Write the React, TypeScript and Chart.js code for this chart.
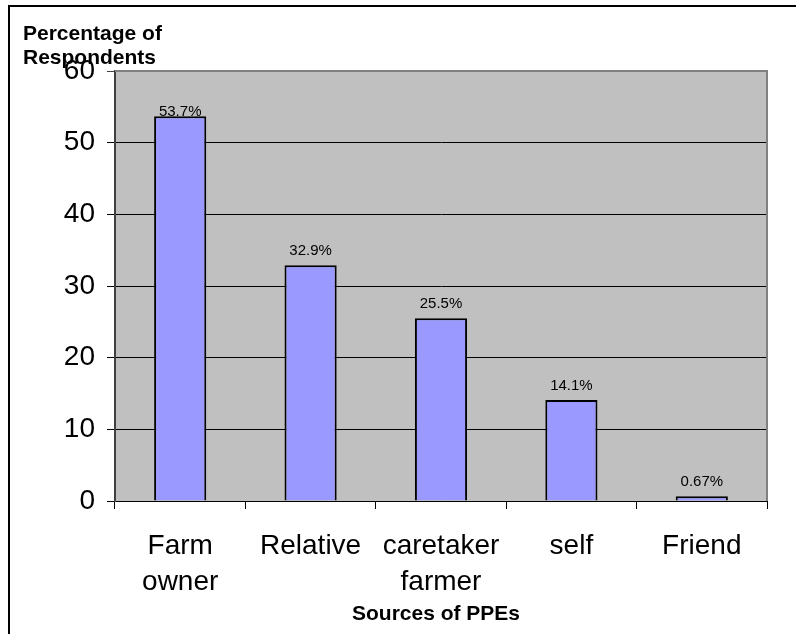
import React, { useEffect, useRef } from 'react';
import { Chart, registerables } from 'chart.js';

Chart.register(...registerables);

const categories: string[][] = [['Farm', 'owner'], ['Relative'], ['caretaker', 'farmer'], ['self'], ['Friend']];
const values: number[] = [53.7, 32.9, 25.5, 14.1, 0.67];
const valueLabels: string[] = ['53.7%', '32.9%', '25.5%', '14.1%', '0.67%'];
const yTitleLines: string[] = ['Percentage of', 'Respondents'];
const xTitle = 'Sources of PPEs';
const yMin = 0;
const yMax = 60;
const yStep = 10;

const FONT = '"Liberation Sans", Arial, Helvetica, sans-serif';

const decor = {
  id: 'decor',
  beforeDraw(chart: any) {
    const { ctx, chartArea } = chart;
    const { left, top, right, bottom } = chartArea;
    ctx.save();
    ctx.fillStyle = '#ffffff';
    ctx.fillRect(0, 0, chart.width, chart.height);
    ctx.fillStyle = '#C0C0C0';
    ctx.fillRect(left, top, right - left, bottom - top);
    ctx.restore();
  },
  afterDatasetsDraw(chart: any) {
    const { ctx, chartArea } = chart;
    const meta = chart.getDatasetMeta(0);
    ctx.save();
    ctx.font = `15px ${FONT}`;
    ctx.fillStyle = '#000';
    ctx.textAlign = 'center';
    ctx.textBaseline = 'alphabetic';
    meta.data.forEach((bar: any, i: number) => {
      let y = bar.y - 10;
      y = Math.max(y, chartArea.top + 45);
      ctx.fillText(valueLabels[i], bar.x, y);
    });
    ctx.restore();
  },
  afterDraw(chart: any) {
    const { ctx, chartArea } = chart;
    const { left, top, right, bottom } = chartArea;
    ctx.save();
    // plot area right/top border
    ctx.strokeStyle = '#808080';
    ctx.lineWidth = 2;
    ctx.beginPath();
    ctx.moveTo(left, top);
    ctx.lineTo(right, top);
    ctx.lineTo(right, bottom);
    ctx.stroke();
    // outer frame
    ctx.fillStyle = '#000';
    ctx.fillRect(8, 5, 2, chart.height - 5);
    ctx.fillRect(8, 5, chart.width - 8, 2);
    // y title
    ctx.font = `bold 21px ${FONT}`;
    ctx.textAlign = 'left';
    ctx.textBaseline = 'alphabetic';
    ctx.fillText(yTitleLines[0], 23, 40);
    ctx.fillText(yTitleLines[1], 23, 64);
    // x title
    ctx.textAlign = 'center';
    ctx.fillText(xTitle, (left + right) / 2 - 5, 620);
    ctx.restore();
  },
};

export default function App() {
  const ref = useRef<HTMLCanvasElement | null>(null);
  useEffect(() => {
    if (!ref.current) return;
    const chart = new Chart(ref.current, {
      type: 'bar',
      data: {
        labels: categories,
        datasets: [
          {
            data: values,
            backgroundColor: '#9999FF',
            borderColor: '#000000',
            borderWidth: 2,
            barPercentage: 0.4,
            categoryPercentage: 1,
          },
        ],
      },
      options: {
        animation: false,
        responsive: false,
        maintainAspectRatio: false,
        layout: { padding: { top: 71, right: 29, bottom: 0, left: 0 } },
        plugins: {
          legend: { display: false },
          tooltip: { enabled: false },
          title: { display: false },
        },
        scales: {
          x: {
            grid: {
              display: true,
              drawOnChartArea: false,
              drawTicks: true,
              tickLength: 8,
              color: '#000',
              offset: true,
            },
            border: { display: true, color: '#000', width: 1 },
            ticks: {
              color: '#000',
              font: { family: FONT, size: 28, lineHeight: 1.286 },
              padding: 19,
              maxRotation: 0,
              autoSkip: false,
            },
            afterFit(scale: any) {
              scale.height = 133;
            },
          },
          y: {
            min: yMin,
            max: yMax,
            grid: {
              color: (c: any) => (c.tick && c.tick.value === yMax ? '#404040' : '#000'),
              tickLength: 8,
              lineWidth: 1,
            },
            border: { display: true, color: '#404040', width: 2 },
            ticks: {
              stepSize: yStep,
              color: '#000',
              font: { family: FONT, size: 28 },
              padding: 12,
            },
            afterFit(scale: any) {
              scale.width = 115;
            },
          },
        },
      },
      plugins: [decor],
    });
    return () => chart.destroy();
  }, []);
  return (
    <div style={{ position: 'fixed', left: 0, top: 0, width: 796, height: 634, background: '#fff' }}>
      <canvas ref={ref} width={796} height={634} style={{ display: 'block', width: 796, height: 634 }} />
    </div>
  );
}
